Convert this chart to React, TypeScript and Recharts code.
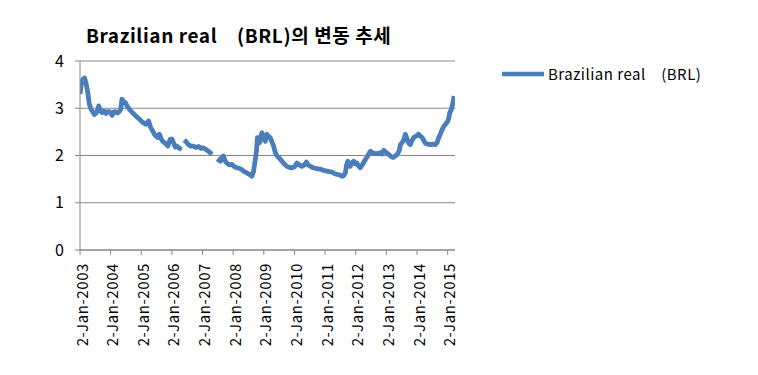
import React from "react";
import { LineChart, Line, XAxis, YAxis, CartesianGrid, Legend } from "recharts";

// time as fractional year, value in BRL per USD
const years = [
  2003.0, 2003.04, 2003.1, 2003.15, 2003.2, 2003.25, 2003.3, 2003.36, 2003.42, 2003.47,
  2003.53, 2003.58, 2003.61, 2003.66, 2003.72, 2003.78, 2003.85, 2003.9, 2003.96, 2004.0,
  2004.05, 2004.1, 2004.15, 2004.22, 2004.28, 2004.33, 2004.37, 2004.43, 2004.48, 2004.55,
  2004.61, 2004.69, 2004.77, 2004.85, 2004.94, 2005.05, 2005.16, 2005.24, 2005.3, 2005.37,
  2005.43, 2005.48, 2005.54, 2005.59, 2005.65, 2005.7, 2005.78, 2005.87, 2005.94, 2006.0,
  2006.05, 2006.11, 2006.16, 2006.25, 2006.32, 2006.36, 2006.4, 2006.45, 2006.54, 2006.62,
  2006.7, 2006.78, 2006.87, 2006.95, 2007.03, 2007.1, 2007.19, 2007.25, 2007.3, 2007.4,
  2007.48, 2007.52, 2007.58, 2007.62, 2007.68, 2007.74, 2007.79, 2007.87, 2007.96, 2008.04,
  2008.12, 2008.2, 2008.28, 2008.36, 2008.45, 2008.53, 2008.61, 2008.66, 2008.72, 2008.76,
  2008.79, 2008.83, 2008.86, 2008.9, 2008.94, 2008.99, 2009.05, 2009.1, 2009.15, 2009.21,
  2009.27, 2009.32, 2009.38, 2009.43, 2009.5, 2009.59, 2009.67, 2009.75, 2009.83, 2009.92,
  2010.0, 2010.08, 2010.16, 2010.24, 2010.32, 2010.39, 2010.45, 2010.52, 2010.62, 2010.73,
  2010.82, 2010.9, 2010.98, 2011.06, 2011.14, 2011.22, 2011.3, 2011.39, 2011.47, 2011.55,
  2011.61, 2011.66, 2011.7, 2011.74, 2011.78, 2011.82, 2011.88, 2011.93, 2011.99, 2012.04,
  2012.09, 2012.15, 2012.23, 2012.31, 2012.38, 2012.43, 2012.48, 2012.56, 2012.64, 2012.72,
  2012.8, 2012.86, 2012.91, 2013.0, 2013.08, 2013.15, 2013.22, 2013.29, 2013.35, 2013.42,
  2013.46, 2013.54, 2013.58, 2013.62, 2013.66, 2013.7, 2013.74, 2013.78, 2013.84, 2013.89,
  2013.97, 2014.05, 2014.11, 2014.17, 2014.22, 2014.27, 2014.35, 2014.44, 2014.52, 2014.6,
  2014.66, 2014.71, 2014.76, 2014.82, 2014.88, 2014.93, 2015.0, 2015.04, 2015.07, 2015.11,
  2015.15, 2015.18, 2015.21,
];

const brl: (number | null)[] = [
  3.3, 3.5, 3.62, 3.64, 3.52, 3.35, 3.1, 2.98, 2.92, 2.87,
  2.9, 2.98, 3.05, 2.95, 2.91, 2.94, 2.89, 2.93, 2.93, 2.9,
  2.85, 2.92, 2.93, 2.9, 2.93, 2.98, 3.19, 3.14, 3.12, 3.03,
  2.98, 2.92, 2.87, 2.82, 2.77, 2.7, 2.66, 2.73, 2.6, 2.52,
  2.45, 2.41, 2.38, 2.45, 2.35, 2.3, 2.26, 2.2, 2.34, 2.35,
  2.27, 2.18, 2.2, 2.15, 2.13, null, 2.33, 2.3, 2.23, 2.2,
  2.2, 2.17, 2.19, 2.15, 2.16, 2.13, 2.09, 2.06, 2.02, null,
  1.93, 1.91, 1.88, 1.95, 1.99, 1.88, 1.84, 1.8, 1.81, 1.76,
  1.74, 1.73, 1.7, 1.66, 1.63, 1.6, 1.56, 1.65, 1.91, 2.1,
  2.38, 2.3, 2.27, 2.4, 2.48, 2.34, 2.3, 2.45, 2.41, 2.38,
  2.28, 2.2, 2.05, 1.99, 1.95, 1.88, 1.82, 1.77, 1.75, 1.74,
  1.76, 1.84, 1.8, 1.77, 1.8, 1.86, 1.8, 1.77, 1.74, 1.72,
  1.71, 1.7, 1.68, 1.67, 1.66, 1.65, 1.62, 1.6, 1.59, 1.56,
  1.58, 1.63, 1.8, 1.88, 1.8, 1.77, 1.85, 1.88, 1.82, 1.84,
  1.78, 1.74, 1.82, 1.91, 1.98, 2.04, 2.09, 2.05, 2.04, 2.04,
  2.06, 2.03, 2.11, 2.06, 2.02, 1.98, 1.96, 1.99, 2.02, 2.1,
  2.23, 2.3, 2.35, 2.45, 2.38, 2.3, 2.25, 2.23, 2.32, 2.38,
  2.41, 2.45, 2.41, 2.38, 2.32, 2.26, 2.24, 2.23, 2.24, 2.23,
  2.28, 2.38, 2.45, 2.55, 2.62, 2.66, 2.72, 2.8, 2.91, 2.95,
  3.05, 3.15, 3.26,
];

const tickYears = [2003, 2004, 2005, 2006, 2007, 2008, 2009, 2010, 2011, 2012, 2013, 2014, 2015];
const yTicks = [0, 1, 2, 3, 4];

const seriesName = "Brazilian real    (BRL)";
const title = "Brazilian real    (BRL)의 변동 추세";

const data = years.map((t, i) => ({ t, v: brl[i] }));

const FONT = "'Noto Sans CJK KR', 'Noto Sans', sans-serif";
const BLUE = "#4a7ebb";
const GRID = "#868686";

function XTick(props: any) {
  const { x, y, payload } = props;
  return (
    <text
      transform={`translate(${x + 1},${y}) rotate(-90)`}
      textAnchor="end"
      dominantBaseline="central"
      fontSize={15}
      letterSpacing={0.6}
      fontFamily={FONT}
      fill="#000"
    >
      {`2-Jan-${payload.value}`}
    </text>
  );
}

function LegendBox() {
  return (
    <div
      style={{
        display: "flex",
        alignItems: "center",
        fontFamily: FONT,
        fontSize: 15,
        letterSpacing: 0.5,
        color: "#000",
        whiteSpace: "pre",
      }}
    >
      <svg width={46} height={10}>
        <line x1={2} y1={5} x2={44} y2={5} stroke={BLUE} strokeWidth={4.5} />
      </svg>
      <span style={{ marginLeft: 2 }}>{seriesName}</span>
    </div>
  );
}

export default function App() {
  return (
    <div style={{ position: "absolute", left: 0, top: 0, width: 758, height: 375, background: "#fff" }}>
      <div
        style={{
          position: "absolute",
          left: 86,
          top: 23,
          fontFamily: FONT,
          fontWeight: 700,
          fontSize: 19,
          letterSpacing: 0.6,
          lineHeight: "24px",
          whiteSpace: "pre",
          color: "#000",
        }}
      >
        {title}
      </div>
      <LineChart width={758} height={375} data={data} margin={{ top: 61, right: 303, left: 0, bottom: 25 }}>
        <CartesianGrid vertical={false} stroke={GRID} strokeWidth={1} />
        <XAxis
          dataKey="t"
          type="number"
          domain={[2003, 2015.24]}
          ticks={tickYears}
          allowDataOverflow
          height={100}
          tickSize={5}
          tickMargin={8}
          tick={<XTick />}
          axisLine={{ stroke: GRID }}
          tickLine={{ stroke: GRID }}
          interval={0}
        />
        <YAxis
          domain={[0, 4]}
          ticks={yTicks}
          width={80}
          tickSize={5}
          tickMargin={11}
          axisLine={{ stroke: GRID }}
          tickLine={{ stroke: GRID }}
          tick={{ fontSize: 16, fontFamily: FONT, fill: "#000" }}
        />
        <Legend
          layout="horizontal"
          verticalAlign="middle"
          align="center"
          content={() => <LegendBox />}
          wrapperStyle={{ left: 500, top: 63, width: 258 }}
        />
        <Line
          dataKey="v"
          name={seriesName}
          stroke={BLUE}
          strokeWidth={4.8}
          dot={false}
          connectNulls={false}
          isAnimationActive={false}
          strokeLinejoin="round"
        />
      </LineChart>
    </div>
  );
}
